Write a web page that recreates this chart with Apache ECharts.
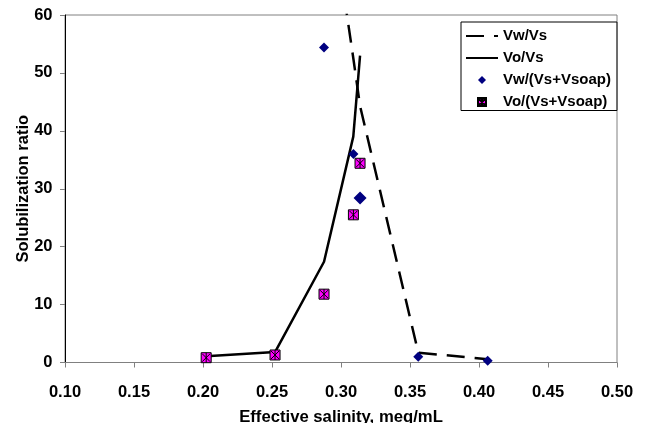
<!DOCTYPE html>
<html><head><meta charset="utf-8">
<script src="https://cdn.jsdelivr.net/npm/echarts@6/dist/echarts.min.js"></script>
<style>html,body{margin:0;padding:0;background:#fff}#c{width:646px;height:423px}</style>
</head><body><div id="c"></div>
<script>
// Data
const seriesNames = ['Vw/Vs', 'Vo/Vs', 'Vw/(Vs+Vsoap)', 'Vo/(Vs+Vsoap)'];
const vwVs  = [[0.2877, 87.0], [0.3090, 52.4], [0.3138, 44.3], [0.3560, 1.7], [0.4063, 0.57]];
const voVs  = [[0.2023, 1.1], [0.2522, 1.8], [0.2877, 17.4], [0.3089, 39.0], [0.3138, 53.0]];
const vwMix = [[0.2877, 54.4], [0.3090, 36.0], [0.3138, 28.4], [0.3560, 1.0], [0.4063, 0.3]];
const voMix = [[0.2023, 0.83], [0.2522, 1.3], [0.2877, 11.8], [0.3090, 25.5], [0.3138, 34.4]];
const xAxisTitle = 'Effective salinity, meq/mL';
const yAxisTitle = 'Solubilization ratio';

const FONT = 'Arial, "Liberation Sans", sans-serif';
const chart = echarts.init(document.getElementById('c'), null, {renderer: 'canvas'});
const pinkSymbol = 'path://M0,0L10,0L10,10L0,10Z M1,1L9,9 M9,1L1,9 M5,0L5,10';
const diamondSymbol = 'path://M5,0L10,5L5,10L0,5Z';

chart.setOption({
  animation: false,
  backgroundColor: '#fff',
  grid: {left: 65, right: 29, top: 15, bottom: 60.5, containLabel: false, outerBoundsMode: 'none',
    show: true, borderColor: '#808080', borderWidth: 1, backgroundColor: 'transparent'},
  xAxis: {
    type: 'value', min: 0.10, max: 0.50, interval: 0.05,
    name: xAxisTitle, nameLocation: 'middle', nameGap: 46, nameMoveOverlap: false,
    nameTextStyle: {fontFamily: FONT, fontWeight: 'bold', fontSize: 16.7, color: '#000'},
    axisLine: {show: true, onZero: false, lineStyle: {color: '#808080', width: 1}},
    axisTick: {show: true, inside: false, length: 5, lineStyle: {color: '#808080'}},
    axisLabel: {fontFamily: FONT, fontWeight: 'bold', fontSize: 16.5, color: '#000', margin: 21,
      formatter: v => v.toFixed(2)},
    splitLine: {show: false}
  },
  yAxis: {
    type: 'value', min: 0, max: 60, interval: 10,
    name: yAxisTitle, nameLocation: 'middle', nameGap: 33, nameRotate: 90, nameMoveOverlap: false,
    nameTextStyle: {fontFamily: FONT, fontWeight: 'bold', fontSize: 16.5, color: '#000'},
    axisLine: {show: true, lineStyle: {color: '#000', width: 1}},
    axisTick: {show: true, inside: false, length: 5, lineStyle: {color: '#808080'}},
    axisLabel: {fontFamily: FONT, fontWeight: 'bold', fontSize: 16.5, color: '#000', margin: 12.5},
    splitLine: {show: false}
  },
  legend: {
    orient: 'vertical', left: 461, top: 22,
    padding: [6.5, 6, 1, 4], itemGap: 7, itemWidth: 32, itemHeight: 8,
    symbolKeepAspect: true,
    borderColor: '#000', borderWidth: 1, backgroundColor: '#fff',
    textStyle: {fontFamily: FONT, fontWeight: 'bold', fontSize: 15, color: '#000', lineHeight: 15},
    data: [
      {name: seriesNames[0]},
      {name: seriesNames[1]},
      {name: seriesNames[2], icon: diamondSymbol},
      {name: seriesNames[3], icon: pinkSymbol}
    ]
  },
  series: [
    {name: seriesNames[0], type: 'line', data: vwVs, symbol: 'none', clip: true,
     lineStyle: {color: '#000', width: 2.5, type: [18, 10]}, itemStyle: {color: 'rgba(0,0,0,0)', borderWidth: 0}, z: 2},
    {name: seriesNames[1], type: 'line', data: voVs, symbol: 'none', clip: true,
     lineStyle: {color: '#000', width: 2.5, type: 'solid'}, itemStyle: {color: 'rgba(0,0,0,0)', borderWidth: 0}, z: 2},
    {name: seriesNames[2], type: 'scatter', data: vwMix, symbol: 'diamond',
     symbolSize: (v, p) => (p.dataIndex === 2 ? 13 : 10),
     itemStyle: {color: '#000080', opacity: 1}, z: 3},
    {name: seriesNames[3], type: 'scatter', data: voMix, symbol: pinkSymbol,
     symbolSize: 10,
     itemStyle: {color: '#FF00FF', borderColor: '#000', borderWidth: 1, opacity: 1}, z: 4}
  ]
});
</script>
</body></html>
